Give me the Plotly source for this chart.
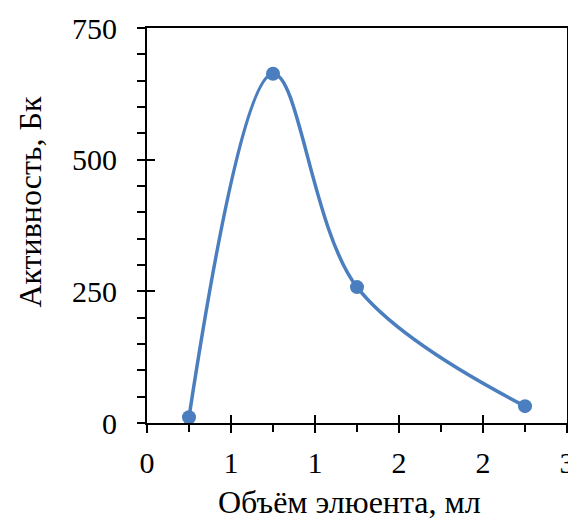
import plotly.graph_objects as go

volume = [0.25, 0.75, 1.25, 2.25]
activity = [11, 663, 258, 32]
x_tick_vals = [0, 0.5, 1.0, 1.5, 2.0, 2.5]
x_tick_text = ["0", "1", "1", "2", "2", "3"]
y_tick_vals = [0, 250, 500, 750]
y_tick_text = ["0", "250", "500", "750"]
x_title = "Объём элюента, мл"
y_title = "Активность, Бк"

FONT = "Liberation Serif"
BLUE = "#4a7ebf"

fig = go.Figure()
fig.add_trace(go.Scatter(
    x=volume, y=activity, mode="lines+markers",
    line=dict(color=BLUE, width=3.5, shape="spline", smoothing=1.0),
    marker=dict(color=BLUE, size=14),
    showlegend=False, cliponaxis=False,
))

axis_common = dict(
    showline=True, linecolor="black", linewidth=2,
    showgrid=False, zeroline=False, automargin=False,
    ticks="outside", ticklen=8, tickwidth=2, tickcolor="black",
    tickfont=dict(family=FONT, size=30, color="black"),
    ticklabeloverflow="allow",
)

fig.update_layout(
    width=568, height=521,
    margin=dict(l=147, r=1, t=28, b=98, autoexpand=False),
    paper_bgcolor="white", plot_bgcolor="white",
    xaxis=dict(
        range=[0, 2.5], tickvals=x_tick_vals, ticktext=x_tick_text,
        mirror=True, ticklabelstandoff=4,
        minor=dict(ticks="outside", dtick=0.25, tick0=0, ticklen=7, tickwidth=2, tickcolor="black"),
        **axis_common,
    ),
    yaxis=dict(
        range=[0, 750], tickvals=y_tick_vals, ticktext=y_tick_text,
        mirror=True, ticklabelstandoff=14,
        minor=dict(ticks="outside", dtick=50, tick0=0, ticklen=8, tickwidth=2, tickcolor="black"),
        **axis_common,
    ),
    xaxis2=dict(
        overlaying="x", anchor="y", side="bottom", range=[0, 2.5], automargin=False,
        tickvals=x_tick_vals, showticklabels=False, showgrid=False, zeroline=False,
        ticks="inside", ticklen=8, tickwidth=2, tickcolor="black", showline=False,
    ),
    yaxis2=dict(
        overlaying="y", anchor="x", side="left", range=[0, 750], automargin=False,
        tickvals=y_tick_vals, showticklabels=False, showgrid=False, zeroline=False,
        ticks="inside", ticklen=8, tickwidth=2, tickcolor="black", showline=False,
    ),
    annotations=[
        dict(text=x_title, xref="paper", yref="paper", x=0.483, y=-0.2, xanchor="center",
             yanchor="middle", showarrow=False, font=dict(family=FONT, size=32, color="black")),
        dict(text=y_title, xref="paper", yref="paper", x=-0.279, y=0.56, xanchor="center",
             yanchor="middle", textangle=-90, showarrow=False,
             font=dict(family=FONT, size=32, color="black")),
    ],
)
# invisible helper trace so the overlay axes are drawn
fig.add_trace(go.Scatter(x=[None], y=[None], xaxis="x2", yaxis="y2", showlegend=False, hoverinfo="skip"))

fig.write_html(
    "out.html",
    config={"displayModeBar": False},
    post_script="document.body.style.margin='0';document.body.style.overflow='hidden';",
)
